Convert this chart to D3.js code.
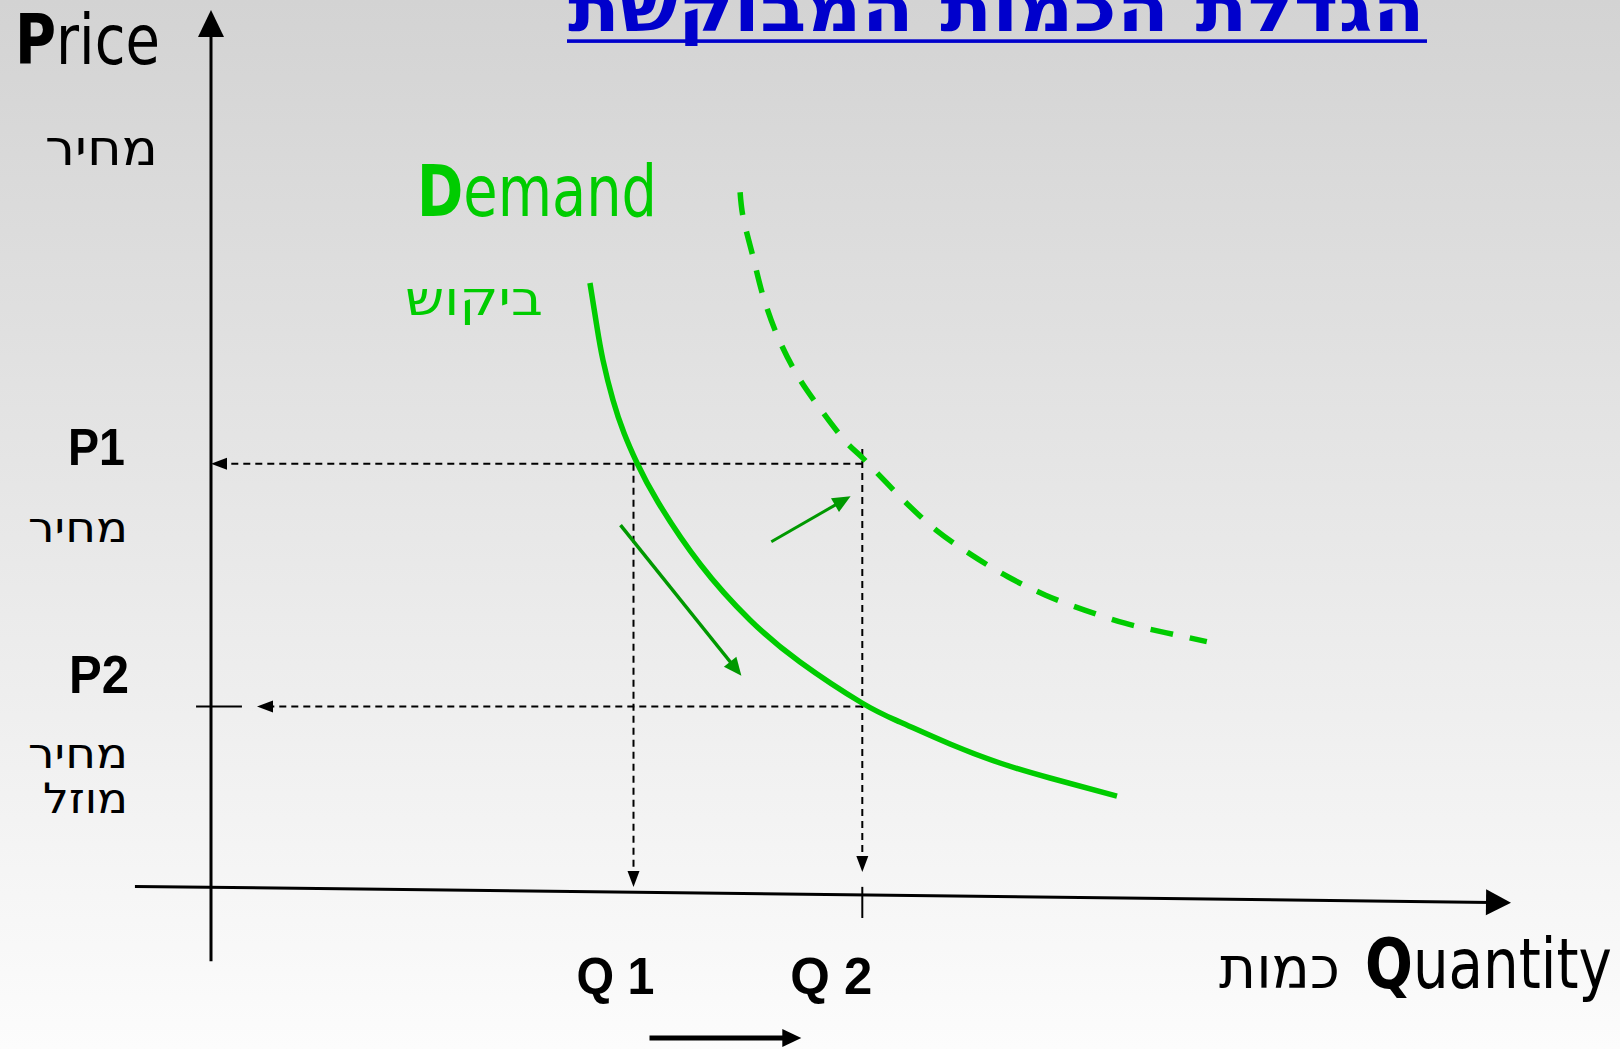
<!DOCTYPE html>
<html><head><meta charset="utf-8">
<script src="https://cdn.jsdelivr.net/npm/d3@7"></script>
<style>html,body{margin:0;padding:0;overflow:hidden;background:#fff}</style>
</head><body>
<svg id="chart" width="1620" height="1049"></svg>
<script>
// ---------- data (price / quantity units 0..100) ----------
const quantityLabels = ["Q 1", "Q 2"];
const quantityValues = [32.5, 50.1];
const priceLabels = ["P1", "P2"];
const priceValues = [48.2, 20.5];

// original demand curve (solid)
const demandQ = [29.15, 29.69, 30.15, 30.92, 31.77, 32.77, 34.38, 37.62, 41.46, 45.31, 50.08, 53.0, 56.85, 60.69, 64.54, 69.69];
const demandP = [68.84, 63.81, 60.05, 55.48, 51.71, 48.29, 43.84, 36.76, 30.37, 25.57, 20.89, 18.72, 16.21, 14.04, 12.33, 10.27];

// shifted demand curve (dashed)
const shiftedQ = [40.7, 40.9, 41.7, 42.5, 43.6, 45.1, 46.8, 48.9, 50.1, 53.5, 55.8, 58.5, 61.3, 64.2, 67.2, 70.3, 73.5, 76.6];
const shiftedP = [79.2, 76.6, 71.8, 67.2, 62.7, 58.3, 54.6, 50.6, 48.9, 43.7, 40.6, 37.8, 35.3, 33.2, 31.5, 30.0, 28.9, 27.9];

// movement arrows [q1, p1, q2, p2]
const moveAlongArrow = [31.5, 41.2, 40.8, 24.0];
const shiftArrow = [43.1, 39.3, 49.2, 44.5];

// ---------- texts ----------
const titleText = "הגדלת הכמות המבוקשת";
const priceText = ["P", "rice"];
const priceHeb = "מחיר";
const demandText = ["D", "emand"];
const demandHeb = "ביקוש";
const quantityText = ["Q", "uantity"];
const quantityHeb = "כמות";
const p1Heb = "מחיר";
const p2Heb = ["מחיר", "מוזל"];

// ---------- drawing ----------
const svg = d3.select("#chart");
const W = 1620, H = 1049;
const x = d3.scaleLinear().domain([0, 100]).range([211, 1511]);
const y = d3.scaleLinear().domain([0, 100]).range([886, 10]);

const defs = svg.append("defs");
const grad = defs.append("linearGradient").attr("id", "bg").attr("x1", 0).attr("y1", 0).attr("x2", 0).attr("y2", 1);
grad.append("stop").attr("offset", "0%").attr("stop-color", "#d3d3d3");
grad.append("stop").attr("offset", "100%").attr("stop-color", "#fcfcfc");
svg.append("rect").attr("width", W).attr("height", H).attr("fill", "url(#bg)");

function arrow(g, x1, y1, x2, y2, o) {
  const dx = x2 - x1, dy = y2 - y1, L = Math.hypot(dx, dy), ux = dx / L, uy = dy / L;
  const bx = x2 - ux * o.headLen, by = y2 - uy * o.headLen;
  const ln = g.append("line")
    .attr("x1", x1).attr("y1", y1)
    .attr("x2", x2 - ux * o.headLen * 0.8).attr("y2", y2 - uy * o.headLen * 0.8)
    .attr("stroke", o.color).attr("stroke-width", o.width);
  if (o.dash) ln.attr("stroke-dasharray", o.dash);
  g.append("path")
    .attr("d", `M${x2},${y2}L${bx - uy * o.headHalf},${by + ux * o.headHalf}L${bx + uy * o.headHalf},${by - ux * o.headHalf}Z`)
    .attr("fill", o.color);
}

function label(parts, o) {
  const g = svg.append("g");
  const t = g.append("text")
    .attr("font-family", o.family).attr("font-size", o.size).attr("fill", o.fill || "#000");
  parts.forEach(p => t.append("tspan").attr("font-weight", p.w || "normal").text(p.t));
  const bb = t.node().getBBox();
  const sx = o.width ? o.width / bb.width : 1;
  const w = bb.width * sx;
  const left = o.anchor === "end" ? o.x - w : o.x;
  g.attr("transform", `translate(${left - bb.x * sx},${o.y}) scale(${sx},1)`);
  return g;
}

// guides (dashed)
const guides = svg.append("g");
const dashG = { color: "#000", width: 2, headLen: 16, headHalf: 6, dash: "7,5" };
const [q1, q2] = quantityValues, [p1, p2] = priceValues;
arrow(guides, x(q2), y(p1), x(0), y(p1), dashG);
arrow(guides, x(q2), y(p2), x(3.54), y(p2), dashG);
arrow(guides, x(q1), y(p1), x(q1), y(-0.1), dashG);
arrow(guides, x(q2), y(p1 + 1.7), x(q2), y(1.6), dashG);

// ticks
guides.append("line").attr("x1", x(-1.15)).attr("x2", x(2.38)).attr("y1", y(p2)).attr("y2", y(p2))
  .attr("stroke", "#000").attr("stroke-width", 2);
guides.append("line").attr("x1", x(q2)).attr("x2", x(q2)).attr("y1", y(-0.1)).attr("y2", y(-3.65))
  .attr("stroke", "#000").attr("stroke-width", 2);

// axes
const axes = svg.append("g");
arrow(axes, x(0), y(-8.6), x(0), y(100), { color: "#000", width: 3, headLen: 27, headHalf: 13 });
arrow(axes, x(-5.85), y(-0.05), x(100), y(-1.9), { color: "#000", width: 3, headLen: 25, headHalf: 13 });

// curves
const solidLine = d3.line().x(d => x(d[0])).y(d => y(d[1])).curve(d3.curveNatural);
const dashLine = d3.line().x(d => x(d[0])).y(d => y(d[1])).curve(d3.curveCatmullRom.alpha(0.5));
svg.append("path").attr("d", solidLine(demandQ.map((q, i) => [q, demandP[i]])))
  .attr("fill", "none").attr("stroke", "#00cc00").attr("stroke-width", 5.5);
svg.append("path").attr("d", dashLine(shiftedQ.map((q, i) => [q, shiftedP[i]])))
  .attr("fill", "none").attr("stroke", "#00cc00").attr("stroke-width", 5.5).attr("stroke-dasharray", "23,17");

// movement arrows
const ag = svg.append("g");
arrow(ag, x(moveAlongArrow[0]), y(moveAlongArrow[1]), x(moveAlongArrow[2]), y(moveAlongArrow[3]),
  { color: "#009900", width: 3.5, headLen: 18, headHalf: 8 });
arrow(ag, x(shiftArrow[0]), y(shiftArrow[1]), x(shiftArrow[2]), y(shiftArrow[3]),
  { color: "#009900", width: 3, headLen: 18, headHalf: 8 });
// bottom arrow (quantity increases)
arrow(ag, x(q1) + 16, 1038, x(q2) - 61, 1038, { color: "#000", width: 5, headLen: 19, headHalf: 9 });

// title
label([{ t: titleText, w: "bold" }], { x: 568, y: 31, size: 64, family: "DejaVu Sans", fill: "#0000cc", width: 857 });
svg.append("rect").attr("x", 567).attr("y", 39.3).attr("width", 860).attr("height", 3.6).attr("fill", "#0000cc");

// axis titles
const sans = "DejaVu Sans", arial = "Liberation Sans";
label([{ t: priceText[0], w: "bold" }, { t: priceText[1] }], { x: 15, y: 64, size: 70, family: sans, width: 145 });
label([{ t: priceHeb }], { x: 158, y: 165, size: 50, family: sans, width: 113, anchor: "end" });
label([{ t: demandText[0], w: "bold" }, { t: demandText[1] }], { x: 417, y: 216, size: 72, family: sans, fill: "#00cc00", width: 240 });
label([{ t: demandHeb }], { x: 405, y: 315, size: 48, family: sans, fill: "#00cc00", width: 138 });
label([{ t: quantityText[0], w: "bold" }, { t: quantityText[1] }], { x: 1365, y: 988, size: 70, family: sans, width: 247 });
label([{ t: quantityHeb }], { x: 1340, y: 988, size: 58, family: sans, width: 121, anchor: "end" });

// price tick labels
label([{ t: priceLabels[0], w: "bold" }], { x: 125, y: y(p1) + 1, size: 52, family: arial, width: 57, anchor: "end" });
label([{ t: p1Heb }], { x: 128, y: 542, size: 42, family: sans, width: 100, anchor: "end" });
label([{ t: priceLabels[1], w: "bold" }], { x: 129, y: y(p2) - 13, size: 54, family: arial, width: 60, anchor: "end" });
label([{ t: p2Heb[0] }], { x: 128, y: 768, size: 42, family: sans, width: 100, anchor: "end" });
label([{ t: p2Heb[1] }], { x: 128, y: 813, size: 42, family: sans, width: 85, anchor: "end" });

// quantity tick labels
label([{ t: quantityLabels[0], w: "bold" }], { x: x(q1) - 57, y: 994, size: 52, family: arial, width: 78 });
label([{ t: quantityLabels[1], w: "bold" }], { x: x(q2) - 72, y: 994, size: 52, family: arial, width: 82 });
</script>
</body></html>
